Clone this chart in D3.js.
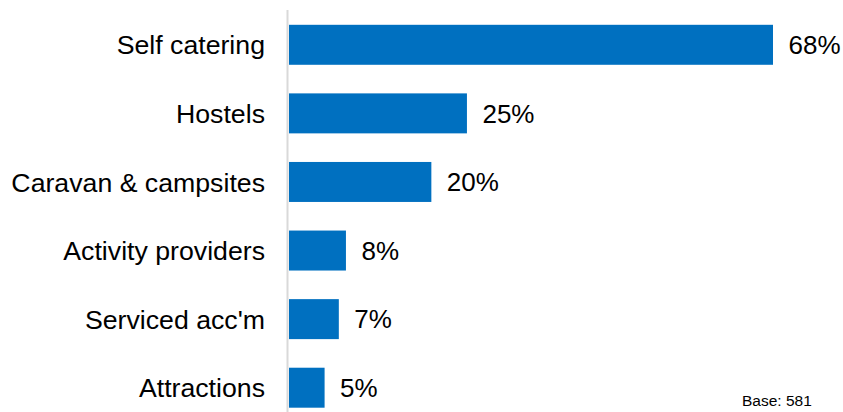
<!DOCTYPE html>
<html>
<head>
<meta charset="utf-8">
<script src="https://cdn.jsdelivr.net/npm/d3@7"></script>
<style>
  html, body { margin: 0; padding: 0; background: #ffffff; }
  svg { display: block; }
  text { font-family: "Liberation Sans", Arial, sans-serif; fill: #000; }
</style>
</head>
<body>
<svg id="chart" width="843" height="412"></svg>
<script>
// Share of businesses by sector (%)
const categories = ["Self catering", "Hostels", "Caravan & campsites", "Activity providers", "Serviced acc'm", "Attractions"];
const values = [68, 25, 20, 8, 7, 5];
const baseNote = "Base: 581";

const svg = d3.select("#chart");
const x0 = 289;

const x = d3.scaleLinear().domain([0, 68]).range([x0, 773]);
const y = d3.scaleBand()
  .domain(categories)
  .range([10.5, 422])
  .paddingInner(0.417)
  .paddingOuter(0.2085);

// bars
svg.append("g").selectAll("rect")
  .data(categories)
  .join("rect")
  .attr("x", x(0))
  .attr("y", d => y(d))
  .attr("width", (d, i) => x(values[i]) - x(0))
  .attr("height", y.bandwidth())
  .attr("fill", "#0070c0");

// vertical axis line
svg.append("line")
  .attr("x1", 287.5).attr("x2", 287.5)
  .attr("y1", 10).attr("y2", 412)
  .attr("stroke", "#d9d9d9")
  .attr("stroke-width", 2);

// category labels
svg.append("g").selectAll("text")
  .data(categories)
  .join("text")
  .attr("x", 265)
  .attr("y", d => y(d) + y.bandwidth() / 2)
  .attr("dy", "0.36em")
  .attr("text-anchor", "end")
  .style("font-size", "26.7px")
  .text(d => d);

// value labels
svg.append("g").selectAll("text")
  .data(categories)
  .join("text")
  .attr("x", (d, i) => x(values[i]) + 15.5)
  .attr("y", d => y(d) + y.bandwidth() / 2)
  .attr("dy", "0.36em")
  .style("font-size", "26px")
  .text((d, i) => values[i] + "%");

// base note
svg.append("text")
  .attr("x", 742)
  .attr("y", 406)
  .style("font-size", "15.5px")
  .text(baseNote);
</script>
</body>
</html>
